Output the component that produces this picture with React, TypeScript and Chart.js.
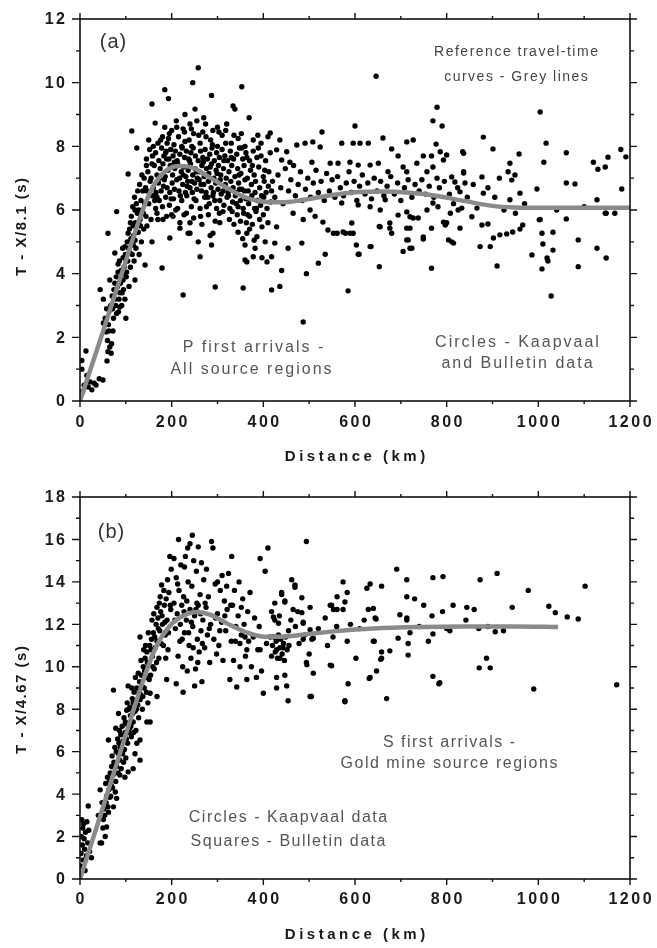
import React, { useEffect, useRef } from "react";
import { Chart, registerables } from "chart.js";

Chart.register(...registerables);

// ---------- Tick labels ----------
const distanceTickLabels = [0, 200, 400, 600, 800, 1000, 1200];
const pTickLabels = [0, 2, 4, 6, 8, 10, 12];
const sTickLabels = [0, 2, 4, 6, 8, 10, 12, 14, 16, 18];

// ---------- Panel (a): P first arrivals [distance km, T - X/8.1 s] ----------
const pRise: [number, number][] = [
  [4,1.0],[4,1.27],[6,0.3],[9,0.5],[13,1.57],[15,0.8],[18,0.44],[22,0.6],[26,0.35],[31,0.56],[35,0.5],[42,0.7],[50,0.66],
  [44,3.5],[51,2.45],[51,3.2],[57,2.17],[59,1.26],[61,1.55],[65,1.7],[69,1.8],[65,2.85],[65,3.8],[61,5.27],[73,2.6],[76,3.2],
  [76,3.7],[76,4.65],[80,2.75],[80,5.95],[83,4.05],[83,4.3],[87,2.95],[87,3.4],[94,3.8],[94,4.5],[98,3.2],[98,4.85],[100,2.6],
  [102,4.05],[105,5.27],[109,4.65],[113,4.95],[116,5.5],[120,3.8],[120,5.05],[120,6.0],[124,5.3],[131,5.7],[138,5.9],[142,4.27],
  [146,5.5],[113,8.48],[105,7.13],[124,7.95],
  [55,2.6],[58,2.9],[62,2.4],[67,3.0],[70,3.3],[72,2.2],[74,3.5],[78,3.0],[79,3.9],[82,3.6],[85,3.2],[86,4.4],[88,3.7],[90,4.1],
  [91,3.0],[93,4.8],[95,3.5],[96,4.2],[99,4.6],[101,3.9],[103,5.0],[104,4.4],[106,4.8],[107,3.6],[108,5.4],[110,4.2],[111,5.1],
  [112,5.8],[114,4.6],[115,6.1],[117,5.2],[118,4.4],[119,6.4],[121,5.6],[122,4.8],[123,6.2],[125,5.9],[126,6.6],[127,5.3],
  [128,6.0],[129,4.6],[130,6.8],[132,5.5],[133,6.3],[134,5.0],[135,7.1],[136,6.0],[137,6.6],[139,5.4],[140,7.0],[141,6.2],
  [143,6.7],[144,5.8],[145,7.4],[60,1.9],[63,2.2],[68,1.5],[71,2.9],[84,2.8],[92,3.4],[97,4.0],[110,5.6],[116,4.9],[128,5.6]
];

const pPeak: [number, number][] = [
  [185,9.78],[193,9.5],[157,9.33],[287,9.6],[353,9.87],[258,10.47],[246,10.0],[185,8.6],[164,8.73],[229,9.0],[251,9.17],
  [210,8.8],[240,8.7],[270,8.9],[300,8.6],[320,8.7],[338,9.17],[334,9.27],[369,8.9],[290,8.5],[200,8.5],[255,8.8],[225,8.55],
  [150,8.2],[170,8.1],[180,8.3],[195,8.4],[205,8.05],[215,8.3],[228,8.45],[238,8.2],[248,8.4],[262,8.1],[275,8.3],[285,8.2],
  [300,8.0],[310,8.35],[330,8.1],[345,8.25],[360,8.0],[378,8.2],[395,8.1],[410,8.3],[160,8.0],[190,8.1],[222,8.0],[244,8.0],
  [268,8.45],[318,8.1],[352,8.4],[388,8.35],
  [145,7.6],[152,7.9],[158,7.7],[165,7.8],[172,7.55],[178,7.95],[183,7.7],[188,7.85],[194,7.6],[198,7.9],[203,7.7],[208,7.85],
  [212,7.55],[218,7.75],[223,7.95],[228,7.65],[232,7.85],[237,7.6],[242,7.8],[247,7.95],[252,7.7],[258,7.55],[263,7.85],
  [268,7.65],[273,7.9],[278,7.6],[283,7.75],[288,7.95],[293,7.55],[298,7.8],[304,7.65],[310,7.9],[316,7.7],[322,7.55],
  [328,7.85],[335,7.6],[342,7.75],[348,7.95],[355,7.6],[362,7.8],[370,7.55],[378,7.85],[386,7.65],[395,7.7],[405,7.55],[415,7.8],
  [148,7.2],[155,7.0],[162,7.4],[168,7.1],[175,7.3],[181,7.45],[186,7.05],[192,7.25],[197,7.4],[202,7.1],[207,7.3],[213,7.45],
  [217,7.0],[221,7.2],[226,7.35],[231,7.05],[236,7.25],[241,7.45],[246,7.1],[251,7.3],[256,7.0],[261,7.2],[266,7.4],[271,7.05],
  [276,7.3],[281,7.15],[287,7.45],[292,7.0],[297,7.25],[302,7.4],[307,7.1],[313,7.3],[319,7.0],[325,7.2],[331,7.4],[338,7.05],
  [344,7.3],[351,7.15],[358,7.4],[365,7.0],[372,7.25],[380,7.1],[390,7.35],[400,7.05],[412,7.2],
  [146,6.6],[153,6.9],[160,6.7],[166,6.55],[171,6.85],[177,6.6],[184,6.95],[190,6.7],[196,6.55],[201,6.85],[206,6.65],[211,6.95],
  [216,6.6],[224,6.8],[230,6.55],[235,6.9],[240,6.7],[245,6.55],[250,6.85],[255,6.65],[260,6.95],[265,6.6],[270,6.8],[275,6.55],
  [280,6.9],[286,6.7],[291,6.55],[296,6.85],[301,6.65],[306,6.95],[312,6.6],[317,6.8],[323,6.55],[329,6.9],[334,6.7],[340,6.55],
  [346,6.85],[353,6.65],[360,6.95],[367,6.6],[374,6.8],[382,6.55],[392,6.7],[402,6.9],[418,6.6],
  [150,6.2],[158,6.45],[165,6.05],[173,6.3],[180,6.1],[187,6.4],[195,6.15],[204,6.35],[213,6.05],[222,6.3],[233,6.45],[243,6.1],
  [253,6.3],[262,6.05],[272,6.4],[282,6.2],[290,6.45],[298,6.05],[305,6.3],[314,6.15],[321,6.4],[327,6.05],[333,6.25],[339,6.45],
  [345,6.1],[350,6.3],[356,6.05],[362,6.35],[368,6.2],[375,6.45],[381,6.05],[387,6.3],[394,6.15],[401,6.4],[408,6.05],[416,6.25],
  [155,5.7],[168,5.9],[181,5.7],[200,5.85],[218,5.6],[232,5.9],[248,5.75],[266,5.55],[280,5.85],[295,5.65],[312,5.95],[326,5.7],
  [336,5.55],[343,5.85],[350,5.65],[357,5.9],[363,5.6],[370,5.8],[376,5.55],[384,5.95],[392,5.7],[400,5.85],[410,5.6],
  [196,5.12],[218,5.43],[240,5.27],[258,5.0],[287,4.9],[290,5.27],[240,5.6],[170,5.7],[189,5.8],[157,5.0],[364,5.27],[386,5.16],
  [404,5.0],[397,5.47],[345,5.3],[355,5.1],[370,5.4],[380,5.05],
  [179,4.18],[262,4.53],[225,3.33],[295,3.58],[356,3.55],[418,3.49],[360,4.43],[378,4.53],[397,4.5],[408,4.37],[418,4.53],
  [360,4.9],[236,5.27],[284,5.2],[305,5.6],[364,4.37],[382,4.8],[203,5.8]
];

const pPeakDense: [number, number][] = [
  [157,7.45],[163,6.3],[176,8.2],[182,6.75],[189,7.6],[193,8.25],[199,6.35],[206,7.5],[211,8.6],[219,6.45],[225,7.1],[229,8.15],
  [234,6.75],[239,7.55],[243,8.55],[249,6.35],[254,7.2],[259,8.35],[264,6.8],[269,7.5],[274,8.7],[279,6.4],[284,7.35],[289,8.05],
  [294,6.3],[299,7.15],[303,8.45],[308,6.5],[314,7.55],[318,8.5],[324,6.45],[330,7.65],[336,8.35],[341,6.2],[347,7.1],[353,7.95],
  [359,6.6],[364,7.65],[371,6.35],[376,7.4],[383,6.9],[389,7.95],[396,6.45],[403,7.25],[411,6.75],[168,6.4],[174,7.0],[187,7.8],
  [209,6.0],[227,5.85],[244,6.9],[263,5.8],[276,6.1],[304,5.9],[332,5.95],[348,6.65],[366,5.85],[385,6.05],[406,6.55]
];

const pMid: [number, number][] = [
  [415,8.42],[436,8.2],[429,7.89],[451,7.83],[473,8.04],[491,8.1],[508,8.14],[524,7.98],[528,8.45],[571,8.1],[596,8.1],[611,8.1],
  [629,8.1],[661,8.26],[713,8.14],[727,8.2],[680,7.92],[694,7.7],[777,8.07],[749,7.7],[767,7.7],[786,7.83],[800,7.73],[793,7.57],
  [835,7.83],[779,9.23],[770,8.8],[790,8.64],[600,8.64],[646,10.2],
  [440,7.57],[458,7.5],[506,7.5],[546,7.47],[563,7.47],[589,7.5],[607,7.41],[633,7.41],[651,7.47],[672,7.2],[705,7.35],[713,7.2],
  [735,7.47],[757,7.2],[770,7.35],[779,7.0],[811,7.04],[818,6.88],[837,7.2],[829,6.57],
  [465,5.9],[502,6.0],[513,5.8],[487,5.7],[530,5.62],[541,5.37],[561,5.27],[574,5.31],[589,5.27],[593,5.59],[571,6.22],[607,6.16],
  [633,6.1],[655,6.0],[666,6.32],[676,5.59],[655,5.47],[694,5.84],[713,5.94],[720,5.43],[727,5.75],[749,5.15],[757,6.0],[770,6.22],
  [781,6.1],[793,5.62],[808,5.9],[829,5.43],[833,6.06],[811,5.0],[713,5.06],[720,4.8],[705,4.7],[767,4.17],[653,4.22],[607,4.61],
  [633,4.85],[535,4.61],[520,4.33],[494,4.0],[484,4.96],[585,3.46],[487,2.48],[440,4.1],[436,3.6],[454,4.8],[425,4.96],[429,5.47],
  [553,5.27],[579,5.27],[596,5.27],[603,4.9],[609,4.61],[635,4.85],[653,5.48],[676,5.43],[680,5.27],[713,5.43],[716,5.06],
  [720,5.79],[724,4.8],[738,5.75],[749,5.09],[767,5.43],[797,5.53],[800,5.6],[804,5.06],[815,4.96],[825,6.0],[855,5.79],
  [866,6.06],[873,4.85],[877,5.53],[890,5.56],[895,4.85],[902,5.12],[916,5.22],[931,5.25],[944,5.31],[960,5.4],[966,5.53],
  [910,4.24],[837,7.78],[837,7.16],[840,6.85],[877,7.04],[880,6.53],[880,8.29],[901,7.92],[938,7.47],[934,7.2],[949,7.1],
  [942,6.94],[960,6.53],[938,6.32],[958,7.76],
  [420,6.9],[425,6.4],[432,7.1],[438,6.7],[443,6.2],[448,7.3],[455,6.6],[460,6.95],[466,7.4],[470,6.45],[476,6.8],[481,7.2],
  [485,6.3],[492,6.65],[497,7.0],[503,6.4],[509,6.85],[515,7.25],[520,6.55],[526,6.9],[533,6.3],[538,7.15],[544,6.6],[550,6.95],
  [556,6.4],[562,7.05],[568,6.7],[575,6.45],[581,6.85],[587,7.2],[592,6.55],[598,6.9],[604,6.3],[610,6.75],[616,7.1],[622,6.5],
  [628,6.85],[636,6.35],[642,7.0],[648,6.6],[656,6.9],[663,6.45],[670,6.75],[678,7.05],[686,6.5],[693,6.85],[700,6.3],[708,6.7],
  [716,6.95],[724,6.4],[731,6.8],[740,6.6],[746,6.95],[754,6.5],[762,6.75],[772,6.4],[784,6.7],[795,6.9],[806,6.5],[815,6.2],
  [824,6.7],[845,6.4],[858,6.8]
];

const pFar: [number, number][] = [
  [1004,9.08],[1017,8.1],[1061,7.8],[1152,7.66],[1191,7.67],[1130,7.28],[1146,7.35],[1182,6.66],[1012,7.5],[997,6.66],
  [1061,6.85],[1080,6.82],[1128,6.32],[1148,5.9],[1167,5.9],[1004,5.7],[1061,5.72],[1002,5.69],[1008,5.27],[1032,5.3],
  [1010,4.93],[1032,4.74],[1019,4.49],[1021,4.4],[1008,4.15],[1028,3.3],[986,4.59],[1087,5.06],[1087,4.22],[1128,4.8],
  [1148,4.49],[1146,5.9],[970,6.2],[925,6.0],[905,6.4],[890,6.7],[915,7.0],[950,5.9],[1040,6.0],[1100,6.1],[1120,7.5],[1180,7.9]
];

// Reference P travel-time curve
const pCurveKm = [0, 46, 91, 137, 160, 185, 215, 245, 280, 320, 360, 400, 440, 480, 540, 600, 660, 720, 780, 840, 900, 950, 1000, 1100, 1200];
const pCurveT = [0, 2, 4, 6, 6.75, 7.2, 7.38, 7.33, 7.05, 6.7, 6.4, 6.26, 6.24, 6.3, 6.45, 6.56, 6.58, 6.54, 6.44, 6.28, 6.13, 6.08, 6.07, 6.07, 6.07];

// ---------- Panel (b): S first arrivals [distance km, T - X/4.67 s] ----------
const sEarly: [number, number][] = [
  [2,1.2],[3,2.0],[4,2.8],[5,1.6],[6,2.4],[7,0.9],[8,2.6],[9,1.9],[10,1.4],[12,2.2],[14,1.1],[15,2.7],[17,1.7],[19,2.3],
  [21,1.3],[3,0.6],[18,3.44],[11,0.4],[25,1.0]
];

const sRise: [number, number][] = [
  [44,1.7],[47,1.7],[55,2.0],[58,2.45],[51,2.8],[44,4.2],[65,3.85],[80,3.8],[73,3.4],[62,3.15],[69,5.3],[87,5.6],[98,4.8],
  [105,5.05],[116,5.2],[131,5.6],[124,6.4],[131,6.55],[91,6.4],[62,6.55],[73,8.9],[84,7.8],[102,7.95],[116,8.3],[131,8.45],
  [153,8.75],[146,7.4],[153,7.4],[168,8.6],
  [40,3.0],[48,3.6],[52,3.3],[56,4.5],[58,3.9],[60,4.8],[63,4.2],[66,5.0],[68,4.4],[70,5.8],[72,4.9],[74,5.5],[76,6.2],[78,4.6],
  [80,5.3],[82,6.6],[84,5.9],[86,7.0],[88,6.2],[90,5.2],[92,7.2],[94,6.5],[96,7.6],[98,6.9],[100,5.7],[102,7.3],[104,6.4],
  [106,8.0],[108,7.1],[110,7.7],[112,6.7],[114,8.5],[116,7.4],[118,8.8],[120,7.9],[122,7.0],[124,9.0],[126,8.2],[128,7.6],
  [130,9.3],[132,8.7],[134,9.6],[136,8.0],[138,10.0],[140,9.0],[142,10.4],[144,9.5],[146,10.7],[148,8.3],[150,10.1],[152,11.0],
  [154,9.6],[156,11.3],[158,10.5],[160,11.6],[162,9.9],[164,10.9],[166,12.0],[168,11.2],[170,12.3],[172,10.4],[174,11.7],
  [176,12.6],[178,13.85],[175,13.3],[180,12.0],[182,11.0],[184,12.9],[186,11.5],[188,13.2],[190,12.2],[192,10.8],[194,13.5],
  [196,15.2],[198,12.7],[168,12.8],[131,11.4],[189,9.4],[120,5.9],[95,5.5],[105,9.1],[78,7.1]
];

const sRiseDense: [number, number][] = [
  [50,2.4],[54,3.0],[57,3.6],[61,3.4],[64,4.6],[67,3.9],[71,4.3],[75,5.0],[77,4.1],[79,6.0],[83,5.0],[85,6.4],[87,4.9],[89,6.8],
  [93,5.9],[97,6.1],[99,7.4],[101,6.6],[103,8.3],[107,6.9],[109,8.1],[111,7.2],[113,9.0],[115,7.8],[117,6.9],[119,8.4],[121,9.5],
  [123,8.0],[127,9.7],[129,8.8],[133,10.3],[135,9.1],[137,8.6],[139,10.8],[141,9.8],[143,11.0],[145,8.8],[147,10.2],[149,11.6],
  [151,9.4],[155,10.8],[157,12.2],[159,10.0],[161,12.5],[163,11.4],[167,10.2],[171,11.8],[173,13.0],[177,11.1],[179,12.4],
  [183,13.6],[185,12.1],[187,10.4],[191,14.1],[193,11.6],[197,12.9],[199,14.6]
];

const sPeak: [number, number][] = [
  [205,13.0],[208,11.8],[210,14.2],[212,12.5],[214,10.5],[216,13.6],[218,11.2],[220,14.8],[222,12.9],[224,10.0],[226,13.3],
  [228,11.6],[230,15.2],[232,12.2],[234,9.8],[236,14.0],[238,11.0],[240,15.8],[240,12.7],[242,10.4],[244,13.8],[246,11.9],
  [248,15.0],[250,12.4],[252,9.9],[254,14.5],[256,11.3],[258,15.65],[258,12.9],[260,10.7],[262,13.4],[264,11.7],[266,9.3],
  [268,12.2],[270,14.1],[272,10.9],[275,12.8],[278,11.5],[280,13.3],[283,10.2],[287,15.9],[290,15.6],[285,12.0],[292,11.3],
  [295,13.9],[298,10.6],[300,12.5],[303,11.0],[306,13.6],[309,12.1],[312,10.3],[315,13.1],[318,11.7],[321,12.7],[324,14.4],
  [327,9.4],[330,11.2],[331,15.2],[333,12.9],[335,10.3],[337,13.6],[340,11.9],[342,9.05],[345,12.4],[347,14.0],[349,10.0],
  [352,11.5],[355,13.2],[358,12.0],[361,10.5],[364,10.8],[364,9.4],[366,12.6],[368,11.2],[371,13.5],[374,10.0],[378,11.4],
  [381,12.3],[385,9.5],[388,10.8],[391,11.9],[393,10.8],[393,15.1],[396,9.8],[400,8.75],[404,14.5],[407,11.1],[410,15.6],
  [415,11.4],[349,11.1],[210,9.2],[225,8.8],[250,9.1],[215,16.0],[235,15.6],[245,16.2],[228,14.7],[255,13.0],[205,15.1],
  [265,14.9],[276,14.6],[300,14.0],[310,14.3],[320,13.8],
  [207,12.2],[213,13.9],[219,12.0],[223,11.3],[227,12.6],[233,13.1],[237,11.6],[243,12.1],[247,10.9],[253,12.7],[257,10.2],
  [263,12.5],[267,11.1],[273,13.0],[282,11.8],[296,12.3],[305,11.7],[316,12.4],[329,12.9],[339,11.2],[352,12.8],[360,11.4]
];

const sMid: [number, number][] = [
  [422,12.35],[433,12.05],[440,13.4],[447,13.05],[462,14.1],[469,13.75],[465,12.7],[484,12.55],[502,12.8],[487,12.05],
  [494,15.9],[509,11.35],[494,10.2],[509,9.7],[546,10.08],[505,8.6],[451,9.1],[429,9.5],[469,13.85],[440,13.5],[447,13.1],
  [484,13.25],[475,12.6],[549,12.9],[561,12.7],[578,13.05],[583,13.5],[574,14.0],[561,13.3],[546,12.9],[553,12.7],[574,12.7],
  [629,12.7],[646,12.25],[698,12.45],[713,12.2],[487,12.1],[502,11.75],[425,12.2],[429,10.8],[443,10.9],[436,10.4],[447,9.6],
  [429,9.0],[454,8.4],[495,10.1],[502,8.6],[549,10.05],[585,9.2],[578,8.35],[602,10.4],[642,11.2],[658,10.4],[633,9.5],
  [647,9.8],[669,8.5],[676,10.75],[694,11.35],[716,11.1],[716,10.55],[552,11.4],[583,11.2],[487,11.3],[506,11.3],[640,11.2],
  [720,11.6],[626,13.7],[633,13.9],[658,13.8],[691,14.6],[713,14.1],[713,13.3],[640,12.75],[644,12.3],[713,12.3],[658,10.7],
  [656,10.35],[631,9.45],[578,8.4],
  [418,10.5],[420,11.0],[423,11.4],[426,10.7],[428,11.2],[431,10.4],[433,11.5],[436,10.9],[438,11.3],[441,10.6],[444,11.1],
  [446,10.3],[449,11.4],[452,10.8],[456,11.0],[418,12.6],[425,13.0],[435,12.4],[455,11.7],[460,12.2],[470,11.9],[478,11.1],
  [490,11.5],[500,10.6],[520,11.8],[535,12.3],[540,11.0],[560,11.9],[590,12.0],[610,11.8],[620,12.2]
];

const sFar: [number, number][] = [
  [770,14.2],[792,14.25],[873,14.1],[910,14.4],[978,13.6],[1102,13.8],[768,12.4],[791,12.6],[814,12.9],[844,12.8],[860,12.7],
  [842,12.2],[943,12.8],[1023,12.85],[1037,12.55],[1063,12.35],[1087,12.25],[770,11.55],[807,11.7],[906,11.65],[924,11.7],
  [770,9.55],[783,9.2],[871,9.95],[895,9.95],[887,10.4],[990,8.95],[1171,9.15],[785,9.25],[870,11.8],[890,11.9],[800,11.8],
  [740,11.9],[750,12.9],[730,13.2],[760,11.2]
];

// Reference S travel-time curve
const sCurveKm = [0, 46, 92, 137, 165, 195, 225, 255, 285, 320, 360, 400, 440, 500, 560, 640, 740, 840, 950, 1043];
const sCurveT = [0, 3.1, 6.25, 9.3, 10.9, 11.9, 12.4, 12.58, 12.45, 12.05, 11.65, 11.42, 11.42, 11.55, 11.68, 11.8, 11.87, 11.9, 11.9, 11.88];

// ---------- Drawing helpers ----------
const FONT = '"Liberation Sans", Arial, Helvetica, sans-serif';

type Note = { text: string; x: number; y: number; size: number; spacing: number; color: string; weight?: string };

const framePlugin = {
  id: "frame",
  afterDraw(chart: any, _args: any, opts: any) {
    const ctx = chart.ctx as any;
    const { left, right, top, bottom } = chart.chartArea;
    const xs = chart.scales.x;
    const ys = chart.scales.y;
    ctx.save();
    ctx.strokeStyle = "#111";
    ctx.lineWidth = 1.6;
    ctx.strokeRect(left, top, right - left, bottom - top);
    ctx.lineWidth = 1.4;
    ctx.beginPath();
    xs.ticks.forEach((t: any) => {
      const px = xs.getPixelForValue(t.value);
      const major = t.value % 200 === 0;
      const len = major ? 6 : 3;
      ctx.moveTo(px, bottom);
      ctx.lineTo(px, bottom + len);
      ctx.moveTo(px, top);
      ctx.lineTo(px, top - len);
    });
    ys.ticks.forEach((t: any) => {
      const py = ys.getPixelForValue(t.value);
      const major = t.value % 2 === 0;
      ctx.moveTo(left, py);
      ctx.lineTo(left - (major ? 8 : 4), py);
      ctx.moveTo(right, py);
      ctx.lineTo(right + (major ? 7 : 4), py);
    });
    ctx.stroke();

    // tick labels
    const sp = 2.5;
    ctx.fillStyle = "#1a1a1a";
    ctx.font = `bold 16px ${FONT}`;
    ctx.letterSpacing = `${sp}px`;
    ctx.textBaseline = "middle";
    ctx.textAlign = "center";
    xs.ticks.forEach((t: any) => {
      if (opts.xLabels.includes(t.value)) {
        ctx.fillText(String(t.value), xs.getPixelForValue(t.value) + sp / 2, opts.xLabelY);
      }
    });
    ctx.textAlign = "right";
    ys.ticks.forEach((t: any) => {
      if (opts.yLabels.includes(t.value)) {
        ctx.fillText(String(t.value), 65 + sp, ys.getPixelForValue(t.value) + 1);
      }
    });

    // axis titles
    ctx.font = `bold 15px ${FONT}`;
    ctx.letterSpacing = "3.5px";
    ctx.textAlign = "center";
    ctx.fillText(opts.xTitle, 355 + 1.75, opts.xTitleY);
    ctx.save();
    ctx.translate(22, opts.yTitleY);
    ctx.rotate(-Math.PI / 2);
    ctx.letterSpacing = "1.5px";
    ctx.fillText(opts.yTitle, 0.75, 0);
    ctx.restore();

    // annotations
    (opts.notes as Note[]).forEach((n) => {
      ctx.font = `${n.weight || "normal"} ${n.size}px ${FONT}`;
      ctx.letterSpacing = `${n.spacing}px`;
      ctx.fillStyle = n.color;
      ctx.textAlign = "center";
      ctx.fillText(n.text, n.x + n.spacing / 2, n.y);
    });
    ctx.letterSpacing = "0px";
    ctx.restore();
  },
};

function toPoints(groups: [number, number][][]) {
  const out: { x: number; y: number }[] = [];
  groups.forEach((g) => g.forEach(([x, y]) => out.push({ x, y })));
  return out;
}

function buildConfig(
  scatter: { x: number; y: number }[],
  curve: { x: number; y: number }[],
  yMax: number,
  padTop: number,
  xAxisHeight: number,
  frameOpts: any
): any {
  return {
    type: "scatter",
    data: {
      datasets: [
        {
          type: "line",
          data: curve,
          borderColor: "#8a8a8a",
          borderWidth: 4.5,
          pointRadius: 0,
          fill: false,
          cubicInterpolationMode: "monotone",
          order: 0,
        },
        {
          type: "scatter",
          data: scatter,
          backgroundColor: "#000",
          borderWidth: 0,
          pointRadius: 2.7,
          order: 1,
        },
      ],
    },
    options: {
      animation: false,
      responsive: false,
      maintainAspectRatio: false,
      layout: { padding: { left: 0, right: 27, top: padTop, bottom: 0 } },
      plugins: {
        legend: { display: false },
        tooltip: { enabled: false },
        frame: frameOpts,
      },
      scales: {
        x: {
          type: "linear",
          min: 0,
          max: 1200,
          ticks: { stepSize: 100, display: false },
          grid: { display: false },
          border: { display: false },
          afterFit: (s: any) => {
            s.height = xAxisHeight;
          },
        },
        y: {
          type: "linear",
          min: 0,
          max: yMax,
          ticks: { stepSize: 1, display: false },
          grid: { display: false },
          border: { display: false },
          afterFit: (s: any) => {
            s.width = 80;
          },
        },
      },
    },
    plugins: [framePlugin],
  };
}

const noteColor = "#555";

function Panel(props: { height: number; top: number; config: any }) {
  const ref = useRef<HTMLCanvasElement | null>(null);
  useEffect(() => {
    if (!ref.current) return;
    const chart = new Chart(ref.current, props.config);
    return () => chart.destroy();
  }, []);
  return (
    <canvas
      ref={ref}
      width={657}
      height={props.height}
      style={{ position: "absolute", left: 0, top: props.top, width: 657, height: props.height }}
    />
  );
}

export default function App() {
  const pPoints = toPoints([pRise, pPeak, pPeakDense, pMid, pFar]);
  const sPoints = toPoints([sEarly, sRise, sRiseDense, sPeak, sMid, sFar]);
  const pCurve = pCurveKm.map((x, i) => ({ x, y: pCurveT[i] }));
  const sCurve = sCurveKm.map((x, i) => ({ x, y: sCurveT[i] }));

  const configA = buildConfig(pPoints, pCurve, 12, 19, 74, {
    xLabels: distanceTickLabels,
    yLabels: pTickLabels,
    xLabelY: 423,
    xTitle: "Distance (km)",
    xTitleY: 457,
    yTitle: "T - X/8.1 (s)",
    yTitleY: 227,
    notes: [
      { text: "(a)", x: 113, y: 42, size: 20, spacing: 1, color: "#333" },
      { text: "Reference travel-time", x: 516, y: 52, size: 14, spacing: 1.5, color: "#444" },
      { text: "curves - Grey lines", x: 516, y: 77, size: 14, spacing: 1.5, color: "#444" },
      { text: "P first arrivals -", x: 253, y: 348, size: 16, spacing: 2, color: noteColor },
      { text: "All source regions", x: 251, y: 370, size: 16, spacing: 2, color: noteColor },
      { text: "Circles - Kaapvaal", x: 517, y: 343, size: 16, spacing: 2, color: noteColor },
      { text: "and Bulletin data", x: 517, y: 364, size: 16, spacing: 2, color: noteColor },
    ],
  });

  const offB = 475;
  const configB = buildConfig(sPoints, sCurve, 18, 22, 69, {
    xLabels: distanceTickLabels,
    yLabels: sTickLabels,
    xLabelY: 900 - offB,
    xTitle: "Distance (km)",
    xTitleY: 935 - offB,
    yTitle: "T - X/4.67 (s)",
    yTitleY: 700 - offB,
    notes: [
      { text: "(b)", x: 111, y: 532 - offB, size: 20, spacing: 1, color: "#333" },
      { text: "S first arrivals -", x: 449, y: 743 - offB, size: 16, spacing: 1.5, color: noteColor },
      { text: "Gold mine source regions", x: 449, y: 764 - offB, size: 16, spacing: 1.5, color: noteColor },
      { text: "Circles - Kaapvaal data", x: 288, y: 818 - offB, size: 16, spacing: 1.5, color: noteColor },
      { text: "Squares - Bulletin data", x: 288, y: 842 - offB, size: 16, spacing: 1.5, color: noteColor },
    ],
  });

  return (
    <div style={{ position: "fixed", left: 0, top: 0, width: 657, height: 948, background: "#fff" }}>
      <Panel height={475} top={0} config={configA} />
      <Panel height={473} top={475} config={configB} />
    </div>
  );
}
